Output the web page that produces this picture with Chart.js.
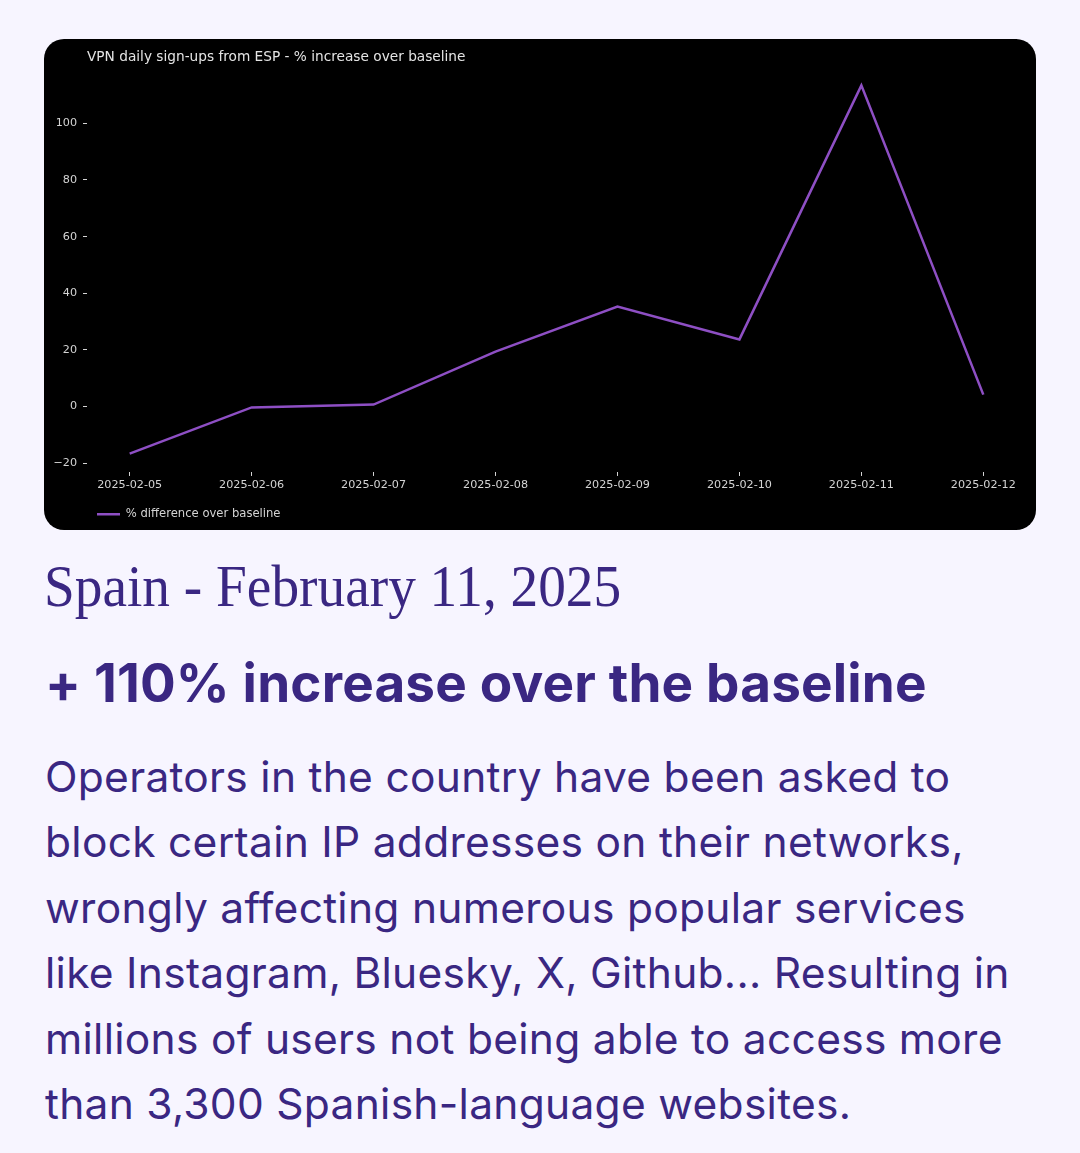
<!DOCTYPE html>
<html>
<head>
<meta charset="utf-8">
<script src="https://cdn.jsdelivr.net/npm/chart.js@4"></script>
<style>
  body { margin: 0; background: #f7f5ff; width: 1080px; height: 1153px; overflow: hidden; position: relative; }
  #chartBox { position: absolute; left: 44px; top: 39px; width: 992px; height: 491px; background: #000; border-radius: 20px; overflow: hidden; }
  .txt { position: absolute; left: 45px; color: #3a2782; white-space: nowrap; }
  #heading { left: 44px; top: 551px; font-family: 'Liberation Serif', serif; font-size: 60px; line-height: 70px; transform-origin: left center; transform: scaleX(0.922); }
  #sub { top: 652.7px; font-family: Inter, sans-serif; font-weight: 700; font-size: 53px; line-height: 60px; letter-spacing: 0.18px; }
  #body { top: 743.5px; font-family: Inter, sans-serif; font-size: 42.5px; line-height: 65.5px; letter-spacing: 0.28px; }
</style>
</head>
<body>
<div id="chartBox"><canvas id="myChart"></canvas></div>
<div class="txt" id="heading">Spain - February 11, 2025</div>
<div class="txt" id="sub">+ 110% increase over the baseline</div>
<div class="txt" id="body">Operators in the country have been asked to<br>block certain IP addresses on their networks,<br>wrongly affecting numerous popular services<br>like Instagram, Bluesky, X, Github... Resulting in<br>millions of users not being able to access more<br>than 3,300 Spanish-language websites.</div>
<script>
// values
const dates = ['2025-02-05', '2025-02-06', '2025-02-07', '2025-02-08', '2025-02-09', '2025-02-10', '2025-02-11', '2025-02-12'];
const pctDiff = [-16.6, -0.3, 0.7, 19.4, 35.3, 23.7, 113.4, 4.2];
const yTicks = [-20, 0, 20, 40, 60, 80, 100];

const lineColor = '#8e4fc4';
const tickColor = '#d4d4d4';
const font = 'DejaVu Sans';
const legendPad = 15;

// put title and legend at the left edge of the plot, like matplotlib does
const alignToPlot = {
  id: 'alignToPlot',
  afterLayout(chart) {
    const left = chart.chartArea.left;
    const shift = function (box, x) {
      if (!box) return;
      const w = box.right - box.left;
      box.left = x;
      box.right = x + w;
    };
    shift(chart.titleBlock, left);
    shift(chart.legend, left - (legendPad - 10));
  }
};

function makeChart() {
  const ctx = document.getElementById('myChart');
  const points = dates.map((d, i) => ({ x: i, y: pctDiff[i] }));

  configuration = {
    type: 'line',
    data: {
      datasets: [{
        label: '% difference over baseline',
        data: points,
        borderColor: lineColor,
        backgroundColor: lineColor,
        borderWidth: 2.5,
        pointRadius: 0,
        tension: 0
      }]
    },
    options: {
      responsive: true,
      maintainAspectRatio: false,
      animation: false,
      layout: { padding: { left: 0, right: 10, top: 0, bottom: 0 } },
      plugins: {
        title: {
          display: true,
          text: 'VPN daily sign-ups from ESP - % increase over baseline',
          align: 'start',
          color: '#e4e4e4',
          font: { family: font, size: 13.7, weight: 'normal' },
          padding: { top: 10, bottom: 1.5 }
        },
        legend: {
          position: 'bottom',
          align: 'start',
          labels: {
            color: tickColor,
            font: { family: font, size: 11.6 },
            usePointStyle: true,
            pointStyle: 'line',
            pointStyleWidth: 23,
            padding: legendPad
          }
        },
        tooltip: { enabled: false }
      },
      scales: {
        x: {
          type: 'linear',
          min: -0.35,
          max: 7.35,
          afterBuildTicks: function (scale) {
            scale.ticks = dates.map((d, i) => ({ value: i }));
          },
          ticks: {
            color: tickColor,
            font: { family: font, size: 11.2 },
            maxRotation: 0,
            autoSkip: false,
            padding: 2,
            callback: function (v) { return dates[v]; }
          },
          grid: { display: true, drawOnChartArea: false, drawTicks: true, tickLength: 4, tickColor: tickColor },
          border: { display: false }
        },
        y: {
          min: -23.1,
          max: 119.9,
          afterBuildTicks: function (scale) {
            scale.ticks = yTicks.map(v => ({ value: v }));
          },
          afterFit: function (scale) { scale.width = 43; },
          ticks: {
            color: tickColor,
            font: { family: font, size: 11.2 },
            padding: 6,
            callback: function (v) { return String(v).replace('-', '\u2212'); }
          },
          grid: { display: true, drawOnChartArea: false, drawTicks: true, tickLength: 4, tickColor: tickColor },
          border: { display: false }
        }
      }
    },
    plugins: [alignToPlot]
  };

  chart = new Chart(ctx, configuration);
}

window.onload = function () {
  makeChart();
};
</script>
</body>
</html>
